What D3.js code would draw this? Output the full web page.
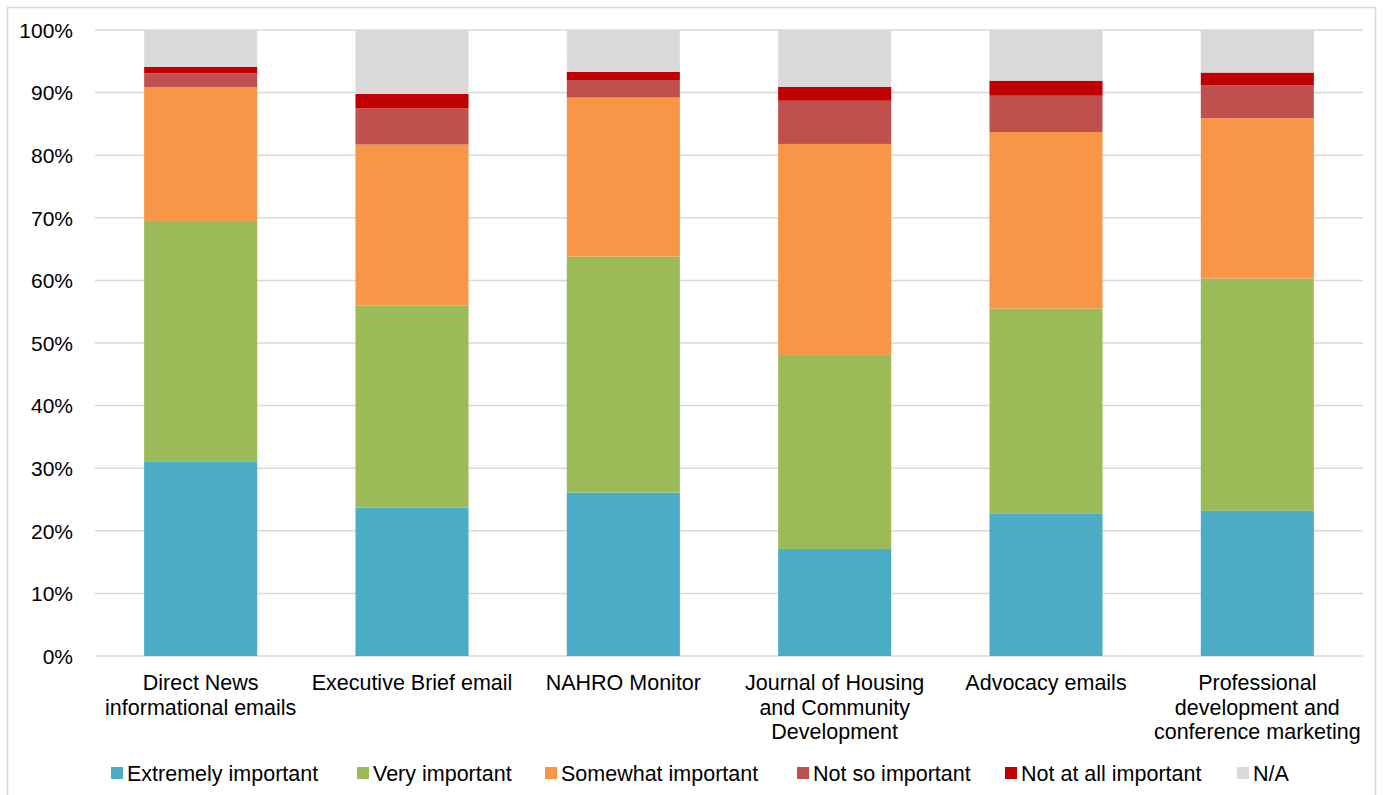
<!DOCTYPE html>
<html>
<head>
<meta charset="utf-8">
<script src="https://cdn.jsdelivr.net/npm/d3@7/dist/d3.min.js"></script>
<style>
  html, body { margin: 0; padding: 0; background: #fff; }
  svg { display: block; font-family: "Liberation Sans", Arial, sans-serif; }
</style>
</head>
<body>
<svg id="chart" width="1386" height="795"></svg>
<script>
// Survey channels (x-axis categories); "\n" marks a line break in the label
const categories = [
  "Direct News\ninformational emails",
  "Executive Brief email",
  "NAHRO Monitor",
  "Journal of Housing\nand Community\nDevelopment",
  "Advocacy emails",
  "Professional\ndevelopment and\nconference marketing"
];

// Response levels, bottom to top of each stack
const seriesNames = ["Extremely important", "Very important", "Somewhat important",
                     "Not so important", "Not at all important", "N/A"];
const seriesColors = ["#4BACC6", "#9BBB59", "#F79646", "#C0504D", "#C00000", "#D9D9D9"];

// Share of respondents (%) per channel
const extremelyImportant = [31.1, 23.7, 26.1, 17.1, 22.7, 23.2];
const veryImportant      = [38.4, 32.3, 37.7, 31.0, 32.8, 37.1];
const somewhatImportant  = [21.4, 25.7, 25.4, 33.7, 28.2, 25.6];
const notSoImportant     = [2.2, 5.8, 2.8, 6.9, 5.8, 5.3];
const notAtAllImportant  = [1.0, 2.3, 1.3, 2.2, 2.4, 2.0];
const notApplicable      = [5.9, 10.2, 6.7, 9.1, 8.1, 6.8];

const yTicks = [0, 10, 20, 30, 40, 50, 60, 70, 80, 90, 100];

const seriesValues = [extremelyImportant, veryImportant, somewhatImportant,
                      notSoImportant, notAtAllImportant, notApplicable];

const rows = categories.map((c, i) => {
  const r = { category: c };
  seriesNames.forEach((s, k) => { r[s] = seriesValues[k][i]; });
  return r;
});

const svg = d3.select("#chart");
const plot = { left: 95, right: 1363, top: 30, bottom: 656 };
const labelSize = 21.5;

// outer frame
svg.append("rect")
  .attr("x", 7.5).attr("y", 7.5)
  .attr("width", 1368).attr("height", 800)
  .attr("fill", "#fff").attr("stroke", "#d9d9d9").attr("stroke-width", 1.5);

const x = d3.scaleBand()
  .domain(categories)
  .range([plot.left, plot.right])
  .paddingInner(0.465)
  .paddingOuter(0.2325);

const y = d3.scaleLinear().domain([0, 100]).range([plot.bottom, plot.top]);

// horizontal gridlines
svg.append("g")
  .selectAll("line")
  .data(yTicks)
  .join("line")
  .attr("x1", plot.left).attr("x2", plot.right)
  .attr("y1", d => y(d)).attr("y2", d => y(d))
  .attr("stroke", "#d9d9d9").attr("stroke-width", 1.5);

// y-axis tick labels
const yAxis = d3.axisLeft(y).tickValues(yTicks).tickFormat(d => d + "%").tickSize(0).tickPadding(0);
const yg = svg.append("g").attr("transform", "translate(73,0)").call(yAxis);
yg.select(".domain").remove();
yg.selectAll("text")
  .attr("font-size", 21)
  .attr("fill", "#000")
  .attr("font-family", "'Liberation Sans', Arial, sans-serif")
  .attr("dy", "0.35em");

// stacked bars
const stack = d3.stack().keys(seriesNames);
const layers = stack(rows);

svg.append("g")
  .selectAll("g")
  .data(layers)
  .join("g")
  .attr("fill", (d, i) => seriesColors[i])
  .selectAll("rect")
  .data(d => d)
  .join("rect")
  .attr("x", d => x(d.data.category))
  .attr("width", x.bandwidth())
  .attr("y", d => y(d[1]))
  .attr("height", d => y(d[0]) - y(d[1]));

// x-axis category labels (multi-line)
const xg = svg.append("g");
categories.forEach(c => {
  const lines = c.split("\n");
  const t = xg.append("text")
    .attr("x", x(c) + x.bandwidth() / 2)
    .attr("y", 690)
    .attr("text-anchor", "middle")
    .attr("font-size", labelSize)
    .attr("fill", "#000");
  lines.forEach((ln, i) => {
    t.append("tspan")
      .attr("x", x(c) + x.bandwidth() / 2)
      .attr("dy", i === 0 ? 0 : 24.5)
      .text(ln);
  });
});

// legend
const legendX = [111, 357, 545, 797, 1005, 1237];
const legend = svg.append("g");
seriesNames.forEach((s, i) => {
  const g = legend.append("g").attr("transform", `translate(${legendX[i]},773)`);
  g.append("rect").attr("x", 0).attr("y", -6).attr("width", 12).attr("height", 12)
    .attr("fill", seriesColors[i]);
  g.append("text").attr("x", 16).attr("y", 0).attr("dy", "0.35em")
    .attr("font-size", labelSize).attr("fill", "#000").text(s);
});
</script>
</body>
</html>
